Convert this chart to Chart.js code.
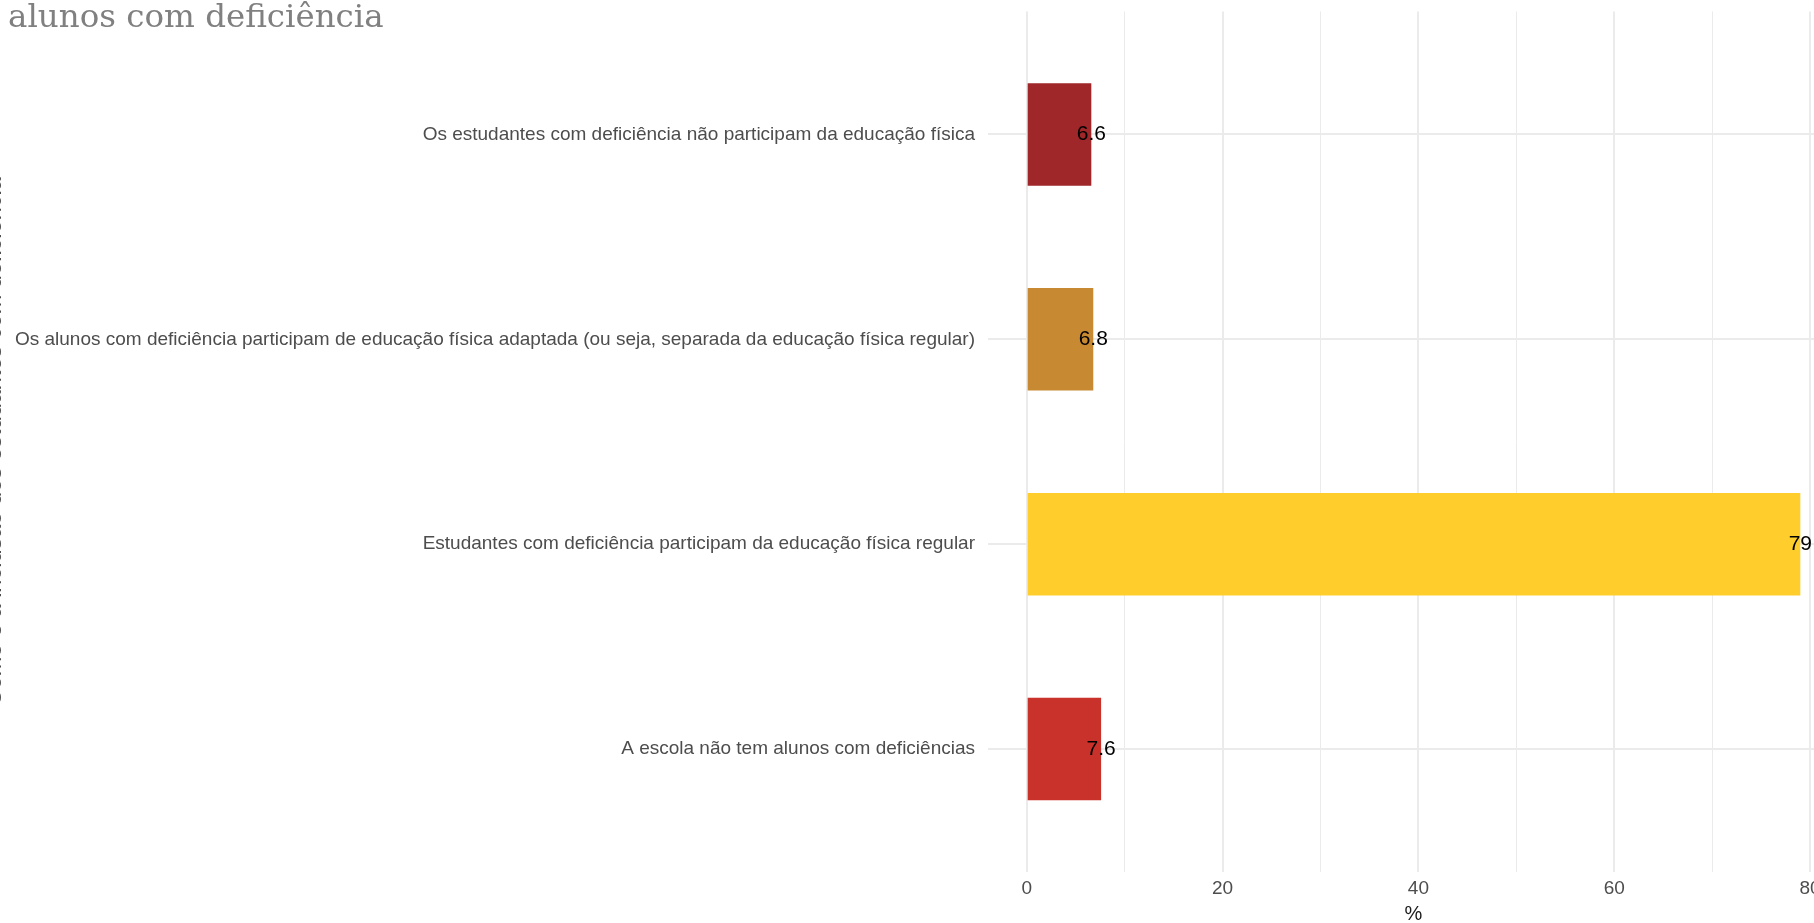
<!DOCTYPE html>
<html>
<head>
<meta charset="utf-8">
<script src="https://cdn.jsdelivr.net/npm/chart.js@4.4.1/dist/chart.umd.min.js"></script>
<style>
    html, body { margin: 0; padding: 0; background: #fff; overflow: hidden; }
    #wrap { position: relative; width: 1850px; height: 923px; }
</style>
</head>
<body>
<div id="wrap"><canvas id="chart" width="1850" height="923"></canvas></div>
<script>
// categories bottom to top, as ggplot stacks them after coord_flip
const categories = [
    'A escola não tem alunos com deficiências',
    'Estudantes com deficiência participam da educação física regular',
    'Os alunos com deficiência participam de educação física adaptada (ou seja, separada da educação física regular)',
    'Os estudantes com deficiência não participam da educação física'
];
const values = [7.6, 79, 6.8, 6.6];
const valueLabels = ['7.6', '79', '6.8', '6.6'];
const barColors = ['#C9322A', '#FFCE2C', '#C78A32', '#9F2629'];
const xTicks = [0, 10, 20, 30, 40, 50, 60, 70, 80];
const xTickLabels = ['0', '', '20', '', '40', '', '60', '', '80'];
const chartTitle = 'alunos com deficiência';
const yTitle = 'Como é a inclusão dos estudantes com deficiência';
const xTitle = '%';

const sans = "'Liberation Sans', Arial, sans-serif";

// titles and value labels drawn on top of the chart
const textPlugin = {
    id: 'texts',
    afterDatasetsDraw(chart) {
        const ctx = chart.ctx;
        const meta = chart.getDatasetMeta(0);

        ctx.save();
        ctx.fillStyle = '#000';
        ctx.font = '21px ' + sans;
        ctx.textAlign = 'center';
        ctx.textBaseline = 'middle';
        meta.data.forEach((bar, i) => {
            ctx.fillText(valueLabels[i], bar.x, bar.y);
        });
        ctx.restore();
    },
    afterDraw(chart) {
        const ctx = chart.ctx;
        const area = chart.chartArea;

        ctx.save();
        ctx.fillStyle = '#808080';
        ctx.font = "32.5px 'DejaVu Serif', Georgia, serif";
        ctx.textAlign = 'left';
        ctx.textBaseline = 'alphabetic';
        ctx.fillText(chartTitle, 8, 27);

        ctx.fillStyle = '#1a1a1a';
        ctx.font = '20px ' + sans;
        ctx.textAlign = 'center';
        ctx.textBaseline = 'middle';
        ctx.fillText(xTitle, (area.left + area.right) / 2, 914);

        // axis title sits mostly outside the picture, as in the cropped original
        ctx.translate(1, (area.top + area.bottom) / 2);
        ctx.rotate(-Math.PI / 2);
        ctx.fillStyle = '#4D4D4D';
        ctx.font = '23.5px ' + sans;
        ctx.textBaseline = 'alphabetic';
        ctx.fillText(yTitle, 0, 0);
        ctx.restore();
    }
};

new Chart(document.getElementById('chart'), {
    type: 'bar',
    data: {
        datasets: [{
            data: values.map((v, i) => ({ x: v, y: i })),
            backgroundColor: barColors,
            borderWidth: 0,
            barPercentage: 0.5,
            categoryPercentage: 1
        }]
    },
    options: {
        indexAxis: 'y',
        responsive: false,
        animation: false,
        layout: { padding: { top: 11.5, right: 11, left: 0, bottom: 0 } },
        plugins: {
            legend: { display: false },
            tooltip: { enabled: false }
        },
        scales: {
            x: {
                type: 'linear',
                min: -3.95,
                max: 82.95,
                afterBuildTicks: s => { s.ticks = xTicks.map(v => ({ value: v })); },
                afterFit: s => { s.height = 51; s.paddingLeft = 0; s.paddingRight = 0; },
                grid: {
                    color: '#EBEBEB',
                    lineWidth: c => (c.tick && c.tick.value % 20 === 0) ? 2 : 1,
                    drawTicks: false
                },
                border: { display: false },
                ticks: {
                    autoSkip: false,
                    maxRotation: 0,
                    padding: 5,
                    color: '#4D4D4D',
                    font: { family: sans, size: 19 },
                    callback: v => xTickLabels[xTicks.indexOf(v)]
                }
            },
            y: {
                type: 'linear',
                min: -0.6,
                max: 3.6,
                offset: false,
                afterBuildTicks: s => { s.ticks = categories.map((c, i) => ({ value: i })); },
                afterFit: s => { s.width = 988; s.paddingTop = 0; s.paddingBottom = 0; },
                grid: { color: '#EBEBEB', lineWidth: 2, drawTicks: false, offset: false },
                border: { display: false },
                ticks: {
                    autoSkip: false,
                    padding: 13,
                    color: '#4D4D4D',
                    font: { family: sans, size: 19 },
                    callback: v => categories[v]
                }
            }
        }
    },
    plugins: [textPlugin]
});
</script>
</body>
</html>
